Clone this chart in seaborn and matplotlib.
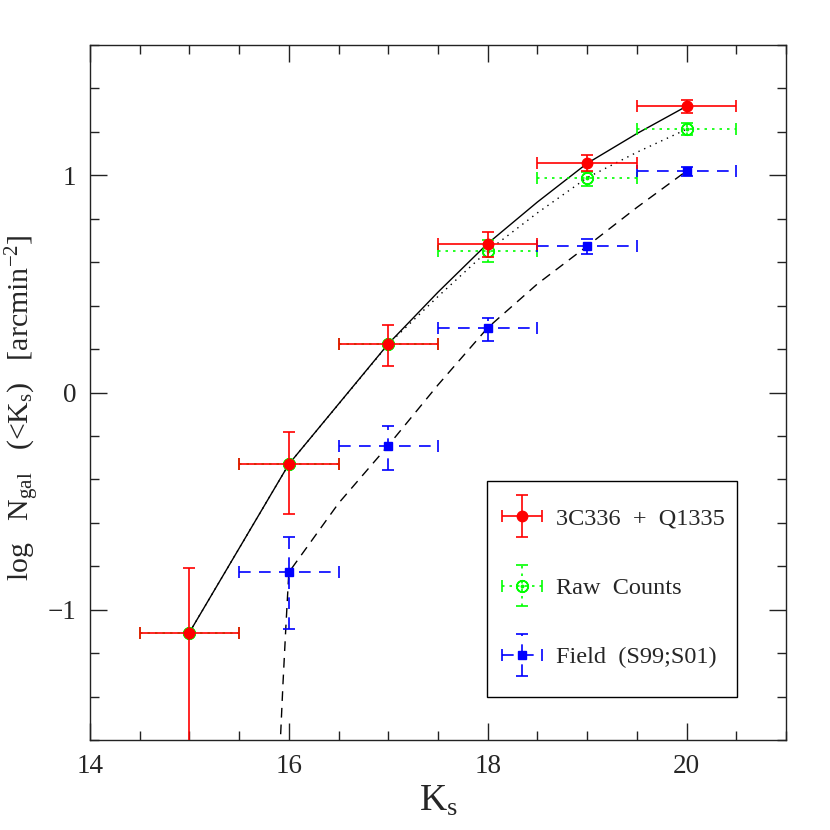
import numpy as np
import pandas as pd
import matplotlib
matplotlib.use("Agg")
import matplotlib.pyplot as plt
from matplotlib.legend_handler import HandlerErrorbar
from matplotlib.container import ErrorbarContainer
from matplotlib.patches import Rectangle
import seaborn as sns

# ----------------------------
# Data
# ----------------------------
ks = [15, 16, 17, 18, 19, 20]
ks_err = [0.5, 0.5, 0.5, 0.5, 0.5, 0.5]

# 3C336 + Q1335 (corrected counts)
cluster_y = [-1.105, -0.33, 0.224, 0.686, 1.055, 1.318]
cluster_lo = [0.70, 0.23, 0.103, 0.061, 0.037, 0.031]
cluster_hi = [0.295, 0.15, 0.086, 0.054, 0.037, 0.028]

# Raw counts
raw_y = [-1.105, -0.33, 0.222, 0.652, 0.989, 1.212]
raw_lo = [0.0, 0.0, 0.0, 0.05, 0.038, 0.026]
raw_hi = [0.0, 0.0, 0.0, 0.05, 0.025, 0.028]

# Field counts (S99;S01)
field_ks = [16, 17, 18, 19, 20]
field_y = [-0.828, -0.244, 0.298, 0.674, 1.020]
field_lo = [0.26, 0.115, 0.06, 0.037, 0.023]
field_hi = [0.163, 0.089, 0.046, 0.031, 0.02]

# model curves through the points
cluster_curve_x = [15, 16, 17, 17.5, 18, 18.5, 19, 19.5, 20]
cluster_curve_y = [-1.105, -0.33, 0.224, 0.462, 0.686, 0.877, 1.055, 1.192, 1.318]
raw_curve_x = [15, 16, 17, 17.5, 18, 18.5, 19, 19.5, 20]
raw_curve_y = [-1.105, -0.33, 0.222, 0.442, 0.652, 0.827, 0.989, 1.106, 1.212]
field_curve_x = [15.91, 15.94, 15.97, 16, 16.5, 17, 17.5, 18, 18.5, 19, 19.5, 20]
field_curve_y = [-1.65, -1.35, -1.08, -0.828, -0.51, -0.244, 0.035, 0.298, 0.50, 0.674, 0.852, 1.020]

# ----------------------------
# Style
# ----------------------------
sns.set_style("ticks")
plt.rcParams['font.family'] = ['Liberation Serif', 'DejaVu Serif']
plt.rcParams['mathtext.fontset'] = 'custom'
plt.rcParams['mathtext.rm'] = 'Liberation Serif'
plt.rcParams['mathtext.it'] = 'Liberation Serif'
plt.rcParams['axes.unicode_minus'] = True

fig = plt.figure(figsize=(8.3, 8.3), dpi=100)
ax = fig.add_axes([0.1084, 0.1084, 0.8386, 0.8374])

# model lines
sns.lineplot(x=cluster_curve_x, y=cluster_curve_y, color='black', lw=1.0, ax=ax, sort=False)
sns.lineplot(x=raw_curve_x, y=raw_curve_y, color='black', lw=1.0, ax=ax, sort=False,
             linestyle=(0, (1, 3.5)))
sns.lineplot(x=field_curve_x, y=field_curve_y, color='black', lw=1.0, ax=ax, sort=False,
             linestyle=(0, (7, 5)))


def draw_errs(x, y, lo, hi, color, marker, ms, ls, z, mfc=None, label=None):
    eb = ax.errorbar(x, y, xerr=[ks_err[:len(x)], ks_err[:len(x)]], yerr=[lo, hi],
                     linestyle='none', marker=marker, color=color, ms=ms,
                     mfc=mfc if mfc else color, mec=color, elinewidth=1.2,
                     capsize=4.5, capthick=1.2, zorder=z, label=label)
    for col in eb[2]:
        col.set_linestyle(ls)
    return eb


h_raw = draw_errs(ks, raw_y, raw_lo, raw_hi, '#00ff00', r'$\odot$', 8.5,
                  (0, (1.5, 3)), 3, label='Raw Counts')
h_field = draw_errs(field_ks, field_y, field_lo, field_hi, '#0000ff', 's', 5.5,
                    (0, (7, 5)), 4, label='Field (S99;S01)')
h_cl = draw_errs(ks, cluster_y, cluster_lo, cluster_hi, '#ff0000', 'o', 7.5,
                 'solid', 5, label='3C336 + Q1335')

# ----------------------------
# Axes
# ----------------------------
ax.set_xlim(14, 21)
ax.set_ylim(-1.6, 1.6)
ax.set_xticks([14, 16, 18, 20])
ax.set_xticks(np.arange(14, 21.01, 0.5), minor=True)
ax.set_yticks([-1, 0, 1])
ax.set_yticks(np.arange(-1.6, 1.61, 0.2), minor=True)
ax.tick_params(which='both', direction='in', top=True, right=True, width=1, color='#222222')
ax.tick_params(which='major', length=12, labelsize=19.5, pad=10)
ax.tick_params(which='minor', length=6.5)
for sp in ax.spines.values():
    sp.set_linewidth(1)
    sp.set_color('#222222')

ax.set_xlabel(r'$\mathrm{K_s}$', fontsize=27, labelpad=4)
ax.set_ylabel(r'log   N$_\mathrm{gal}$   (<K$_\mathrm{s}$)   [arcmin$^{-2}$]', fontsize=21.5, labelpad=4)
ax.yaxis.set_label_coords(-0.069, 0.478)

# legend box drawn as a separate frame
ax.add_patch(Rectangle((0.570, 0.0619), 0.3596, 0.3108, transform=ax.transAxes,
                       facecolor='white', edgecolor='black', lw=1, zorder=6))
handler = HandlerErrorbar(xerr_size=0.82, yerr_size=0.85)
leg = ax.legend(handles=[h_cl, h_raw, h_field],
                labels=['3C336  +  Q1335', 'Raw  Counts', 'Field  (S99;S01)'],
                loc='center', bbox_to_anchor=(0.7514, 0.2187), borderaxespad=0,
                fontsize=17.5, labelspacing=1.95, handlelength=1.7,
                handletextpad=0.55, borderpad=0, frameon=False,
                handler_map={ErrorbarContainer: handler})
leg.set_zorder(7)

fig.savefig("out.png", dpi=100)
